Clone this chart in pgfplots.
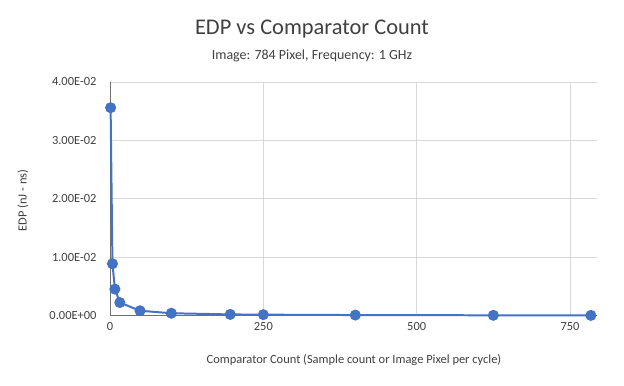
\documentclass[border=0pt]{standalone}
\usepackage{fontspec}
\setmainfont{Carlito}
\usepackage{pgfplots}
\pgfplotsset{compat=1.18}

\definecolor{serblue}{HTML}{4472C4}
\definecolor{gridgray}{HTML}{D9D9D9}
\definecolor{axgray}{HTML}{6F6F6F}
\definecolor{txtgray}{HTML}{404040}

\begin{document}
\begin{tikzpicture}[x=1bp,y=1bp]
\begin{axis}[
    at={(0,0)}, anchor=south west,
    scale only axis,
    width=487bp, height=233.7bp,
    xmin=0, xmax=794,
    ymin=0, ymax=0.04,
    xtick={0,250,500,750},
    ytick={0,0.01,0.02,0.03,0.04},
    yticklabels={0.00E+00,1.00E-02,2.00E-02,3.00E-02,4.00E-02},
    xmajorgrids, ymajorgrids,
    grid style={gridgray, line width=0.8pt},
    axis x line*=bottom, axis y line*=left,
    axis line style={axgray, line width=1pt, -},
    major tick length=0pt,
    tick label style={font=\fontsize{12.5}{14}\selectfont, text=txtgray},
    yticklabel style={xshift=-10bp},
    xticklabel style={yshift=-3bp},
    /pgf/number format/assume math mode=true,
    scaled y ticks=false,
    clip=false,
]
\addplot[serblue, line width=2pt, mark=*, mark size=4.5pt,
    mark options={fill=serblue, draw=serblue}]
coordinates {
(1,0.0356) (4,0.0089) (8,0.00455) (16,0.00225) (49,0.00085)
(100,0.00042) (196,0.00022) (250,0.00018) (400,0.00011)
(625,0.00007) (784,0.00005)
};
\end{axis}
\useasboundingbox (-110,-69.3) rectangle (514,315.7);
\node[font=\fontsize{22.5}{26}\selectfont, text=txtgray] at (202,287) {EDP vs Comparator Count};
\node[font=\fontsize{14}{17}\selectfont, text=txtgray] at (202,260) {Image: 784 Pixel, Frequency: 1 GHz};
\node[font=\fontsize{12.5}{15}\selectfont, text=txtgray] at (244,-44) {Comparator Count (Sample count or Image Pixel per cycle)};
\node[font=\fontsize{12.5}{15}\selectfont, text=txtgray, rotate=90] at (-87,115) {EDP (nJ - ns)};
\end{tikzpicture}
\end{document}
